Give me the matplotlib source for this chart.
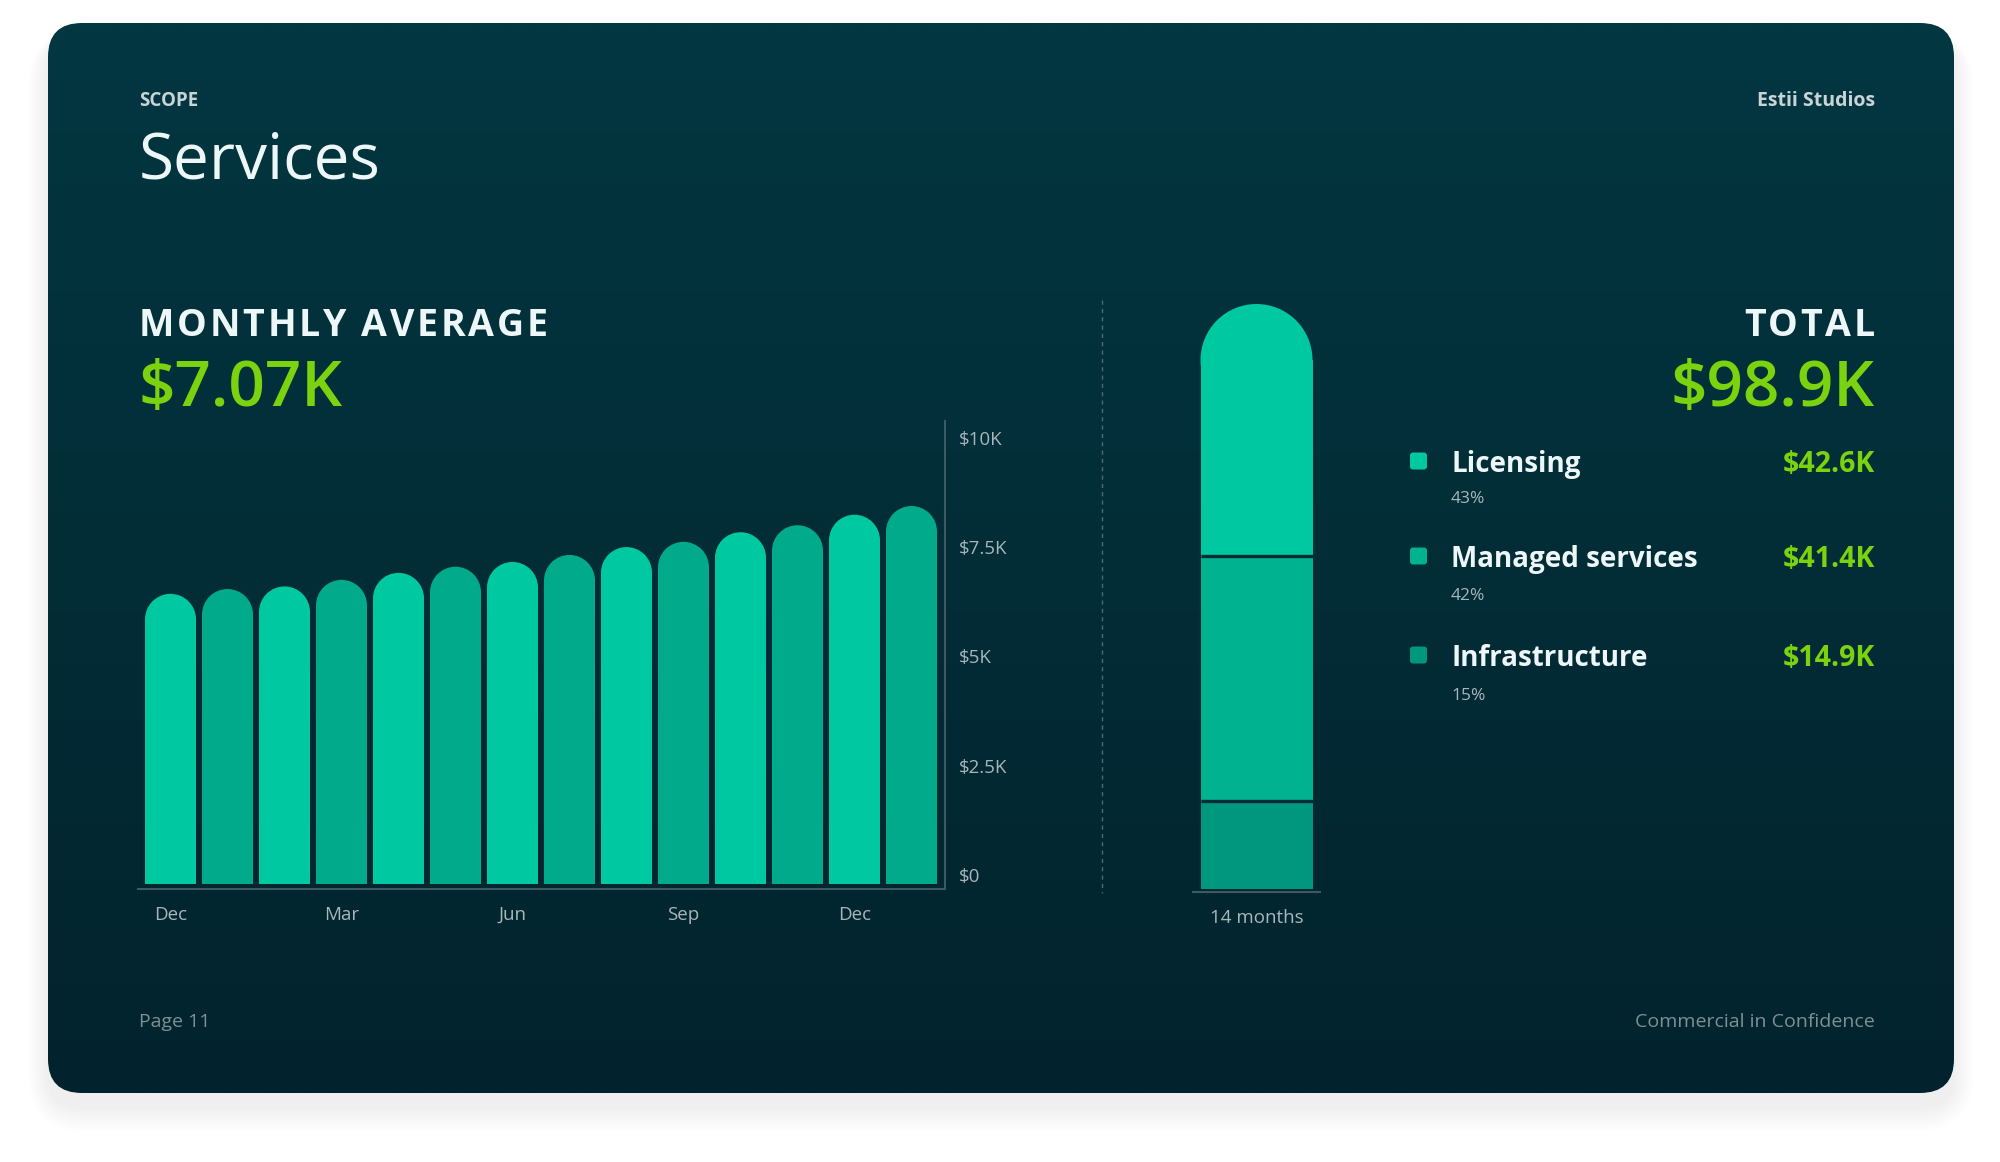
import numpy as np
import matplotlib
matplotlib.use("Agg")
import matplotlib.pyplot as plt
from matplotlib.patches import FancyBboxPatch, Ellipse
import matplotlib.transforms as mtransforms
from matplotlib.font_manager import FontProperties, findfont, get_font

# ---------------- data ----------------
months = ["Dec", "Jan", "Feb", "Mar", "Apr", "May", "Jun",
          "Jul", "Aug", "Sep", "Oct", "Nov", "Dec", "Jan"]
monthly_k = [6.64, 6.75, 6.81, 6.96, 7.12, 7.26, 7.37,
             7.53, 7.71, 7.83, 8.05, 8.21, 8.45, 8.65]
month_tick_idx = [0, 3, 6, 9, 12]
y_ticks = [0, 2.5, 5, 7.5, 10]
y_tick_labels = ["$0", "$2.5K", "$5K", "$7.5K", "$10K"]
categories = ["Licensing", "Managed services", "Infrastructure"]
category_k = [42.6, 41.4, 14.9]
category_pct = ["43%", "42%", "15%"]
category_value_labels = ["$42.6K", "$41.4K", "$14.9K"]
avg_label = "$7.07K"
total_label = "$98.9K"

# ---------------- style ----------------
W, H, DPI = 2000, 1162, 100
FONT = "Open Sans"
plt.rcParams["font.family"] = [FONT, "DejaVu Sans"]
category_colors = ["#00C8A0", "#00B290", "#00977F"]
bar_colors = ["#00C8A0", "#00AA8B"]
GREEN = "#7AD30E"
WHITE = "#EEF7F8"
LIGHT = "#C9D4D7"
TICK = "#A9B6BA"
FOOT = "#7D9095"
AXIS = "#3B5A62"
CARD_MID = "#022C36"

fig = plt.figure(figsize=(W / DPI, H / DPI), dpi=DPI, facecolor="white")
bg = fig.add_axes([0, 0, 1, 1], zorder=0)
bg.axis("off")


def axes_px(x0, y0, x1, y1):
    a = fig.add_axes([x0 / W, 1 - y1 / H, (x1 - x0) / W, (y1 - y0) / H], zorder=2)
    a.set_facecolor("none")
    return a


# card + shadow
CX0, CY0, CX1, CY1, CR = 48, 23, 1954, 1093, 34
for i in range(16):
    p = 1 + i * 1.6
    bg.add_patch(FancyBboxPatch((CX0 - p * 0.8, CY0 - p * 0.3 + 14), (CX1 - CX0) + 1.6 * p,
                                (CY1 - CY0) + 1.3 * p,
                                boxstyle=f"round,pad=0,rounding_size={CR + p}",
                                fc="black", ec="none", alpha=0.005, zorder=0))
card = FancyBboxPatch((CX0, CY0), CX1 - CX0, CY1 - CY0,
                      boxstyle=f"round,pad=0,rounding_size={CR}",
                      fc="none", ec="none", zorder=1)
bg.add_patch(card)
top_c = np.array([3, 55, 65]) / 255
bot_c = np.array([2, 35, 45]) / 255
t = np.linspace(0, 1, 256)[:, None]
grad = top_c[None, :] * (1 - t) + bot_c[None, :] * t
im = bg.imshow(grad[:, None, :], extent=(CX0, CX1, CY1, CY0), aspect="auto",
               interpolation="bilinear", zorder=1)
im.set_clip_path(card)
bg.set_xlim(0, W)
bg.set_ylim(H, 0)


def text(x, yc, s, size, color, weight="normal", ha="left"):
    base = yc + 0.357 * size * DPI / 72
    bg.text(x, base, s, fontsize=size, color=color, fontweight=weight,
            ha=ha, va="baseline", zorder=5, family=[FONT, "DejaVu Sans"])


HF = plt.rcParams["text.hinting_factor"]


def spaced(x, yc, s, size, color, spacing, weight="bold", ha="left"):
    prop = FontProperties(family=FONT, weight=weight, size=size)
    font = get_font(findfont(prop))
    font.set_size(size, DPI)
    advs = [font.load_char(ord(ch)).horiAdvance / 64 / HF for ch in s]
    total = sum(advs) + spacing * (len(s) - 1)
    x0 = x if ha == "left" else x - total
    base = yc + 0.357 * size * DPI / 72
    for ch, a in zip(s, advs):
        bg.text(x0, base, ch, fontproperties=prop, color=color,
                ha="left", va="baseline", zorder=5)
        x0 += a + spacing


# header
text(139, 99, "SCOPE", 13.5, LIGHT, "bold")
text(1875, 99, "Estii Studios", 14, LIGHT, "bold", ha="right")
text(139, 156, "Services", 46, WHITE)

# KPIs
spaced(139, 323, "MONTHLY AVERAGE", 27, WHITE, 2.7)
text(139, 383, avg_label, 46, GREEN, "semibold")
spaced(1875, 323, "TOTAL", 27, WHITE, 2.7, ha="right")
text(1875, 383, total_label, 46, GREEN, "semibold", ha="right")

# divider
bg.plot([1102, 1102], [300, 893], ls=(0, (3, 3)), color="#4E6B73", lw=1, zorder=3)

# ---------------- monthly bar chart ----------------
ax = axes_px(138, 421, 945, 889)
PITCH = 57.0
FIRST = 170.5
ax.set_xlim((138 - FIRST) / PITCH, (945 - FIRST) / PITCH)
PXK = 43.7
ax.set_ylim(-5 / PXK, (884 - 421) / PXK)
bw = 51 / PITCH
ylo, yhi = ax.get_ylim()
px_per_y = (889 - 421) / (yhi - ylo)
r = (bw * PITCH / 2) / px_per_y
xs = np.arange(len(monthly_k))
vals = np.array(monthly_k)
cols = [bar_colors[i % 2] for i in xs]
ax.bar(xs, vals - r, width=bw, color=cols, bottom=0, zorder=2)
for xi, v, c in zip(xs, vals, cols):
    ax.add_patch(Ellipse((xi, v - r), bw, 2 * r, fc=c, ec="none", zorder=2))

for s in ["top", "left"]:
    ax.spines[s].set_visible(False)
for s in ["bottom", "right"]:
    ax.spines[s].set_color(AXIS)
    ax.spines[s].set_linewidth(1.5)
ax.yaxis.tick_right()
ax.set_yticks(y_ticks)
ax.set_yticklabels(y_tick_labels)
ax.set_xticks(month_tick_idx)
ax.set_xticklabels([months[i] for i in month_tick_idx])
ax.tick_params(axis="y", length=0, pad=10, labelsize=13.5, labelcolor=TICK)
ax.tick_params(axis="x", length=0, pad=12, labelsize=13.5, labelcolor=TICK)
off = mtransforms.ScaledTranslation(0, 9 / DPI, fig.dpi_scale_trans)
for lbl in ax.get_yticklabels():
    lbl.set_transform(lbl.get_transform() + off)

# ---------------- stacked total bar ----------------
ax2 = axes_px(1193, 300, 1320, 892)
total = sum(category_k)
px2 = (889 - 304) / total
ax2.set_xlim(0, 1)
ax2.set_ylim(-3 / px2, total + 4 / px2)
bw2 = 112 / 127
r2 = (bw2 * 127 / 2) / px2
order = list(range(len(categories)))[::-1]
cum = 0.0
bounds = []
for k, idx in enumerate(order):
    v = category_k[idx]
    last = k == len(order) - 1
    h = v - r2 if last else v
    ax2.bar(0.5, h, bottom=cum, width=bw2, color=category_colors[idx], zorder=2)
    if last:
        ax2.add_patch(Ellipse((0.5, cum + v - r2), bw2, 2 * r2,
                              fc=category_colors[idx], ec="none", zorder=2))
    cum += v
    if not last:
        bounds.append(cum)
for b in bounds:
    ax2.plot([0.5 - bw2 / 2, 0.5 + bw2 / 2], [b, b], color=CARD_MID, lw=2.4, zorder=3,
             solid_capstyle="butt")
for s in ["top", "left", "right"]:
    ax2.spines[s].set_visible(False)
ax2.spines["bottom"].set_color(AXIS)
ax2.spines["bottom"].set_linewidth(1.5)
ax2.set_yticks([])
ax2.set_xticks([0.5])
ax2.set_xticklabels([f"{len(monthly_k)} months"])
ax2.tick_params(axis="x", length=0, pad=12, labelsize=13.5, labelcolor=TICK)

# ---------------- legend ----------------
rows_y = [462, 557, 656]
pct_y = [497, 594, 694]
for name, col, pct, lab, yc, yp in zip(categories, category_colors, category_pct,
                                       category_value_labels, rows_y, pct_y):
    bg.add_patch(FancyBboxPatch((1410, yc - 9.5), 17, 17,
                                boxstyle="round,pad=0,rounding_size=3",
                                fc=col, ec="none", zorder=4))
    text(1451, yc, name, 20, WHITE, "bold")
    text(1875, yc, lab, 20.5, GREEN, "bold", ha="right")
    text(1451, yp, pct, 12.5, TICK)

# footer
text(139, 1020, "Page 11", 14, FOOT)
text(1875, 1020, "Commercial in Confidence", 14, FOOT, ha="right")

fig.savefig("out.png", dpi=DPI, facecolor="white")
